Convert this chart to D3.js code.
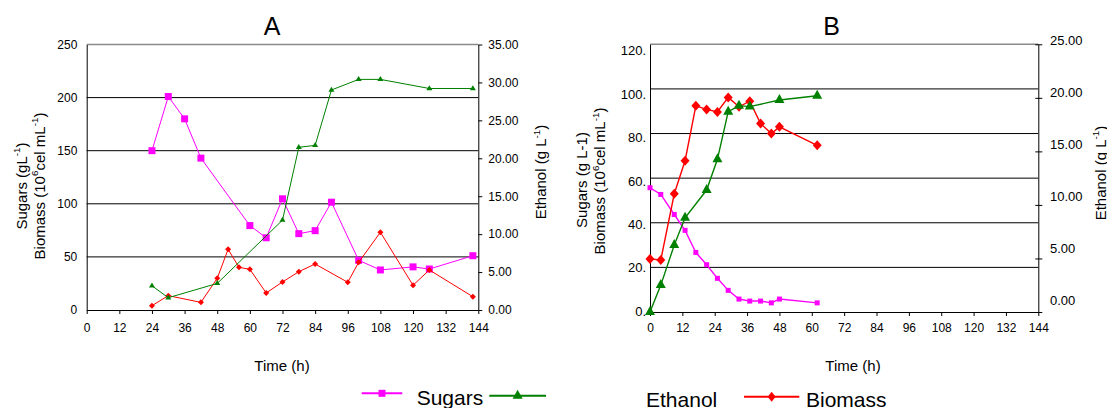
<!DOCTYPE html>
<html>
<head>
<meta charset="utf-8">
<script src="https://cdn.jsdelivr.net/npm/d3@7"></script>
<style>
  html, body { margin: 0; padding: 0; background: #fff; }
  svg { display: block; font-family: "Liberation Sans", Arial, Helvetica, sans-serif; }
</style>
</head>
<body>
<svg id="chart" width="1107" height="408"></svg>
<script>
// ---- shared axis values ----
const timeTicks = [0, 12, 24, 36, 48, 60, 72, 84, 96, 108, 120, 132, 144];
const aLeftTicks = [0, 50, 100, 150, 200, 250];
const aRightTicks = [0, 5, 10, 15, 20, 25, 30, 35];
const bLeftTicks = [0, 20, 40, 60, 80, 100, 120];
const bRightTicks = [0, 5, 10, 15, 20, 25];

// ---- panel A: fermentation over 144 h ----
const aSugarTime = [24, 30, 36, 42, 60, 66, 72, 78, 84, 90, 100, 108, 120, 126, 142];
const aSugar = [150, 201, 180, 143, 79.5, 68, 104.7, 71.9, 74.7, 101.5, 46.8, 37.7, 40.6, 38.6, 51.1];
const aEthanolTime = [24, 30, 48, 72, 78, 84, 90, 100, 108, 126, 142];
const aEthanol = [3.2, 1.62, 3.5, 11.85, 21.45, 21.7, 29.0, 30.4, 30.4, 29.2, 29.2];
const aBiomassTime = [24, 30, 42, 48, 52, 56, 60, 66, 72, 78, 84, 96, 100, 108, 120, 126, 142];
const aBiomass = [4.1, 13.5, 7.2, 29.8, 57.2, 40.2, 38.3, 16.0, 26.4, 36.1, 43.3, 26.1, 44.9, 73.2, 23.3, 37.7, 12.5];

// ---- panel B: fermentation over 62 h ----
const bSugarTime = [0, 4, 9, 13, 17, 21, 25, 29, 33, 37, 41, 45, 48, 62];
const bSugar = [55.7, 52.7, 43.7, 36.6, 26.7, 21.2, 15.1, 9.7, 5.8, 4.9, 4.9, 4.1, 5.8, 4.1];
const bEthanolTime = [0, 4, 9, 13, 21, 25, 29, 33, 37, 48, 62];
const bEthanol = [0, 2.51, 6.25, 8.8, 11.39, 14.26, 18.71, 19.27, 19.18, 19.8, 20.2];
const bBiomassTime = [0, 4, 9, 13, 17, 21, 25, 29, 33, 37, 41, 45, 48, 62];
const bBiomass = [23.8, 23.3, 53.0, 67.8, 92.4, 90.8, 89.7, 96.2, 92.0, 94.5, 84.5, 80.0, 83.0, 74.7];

// ---- legend ----
const legendLabels = ["Sugars", "Ethanol", "Biomass"];
const seriesColors = ["#ff00ff", "#008000", "#ff0000"];

const svg = d3.select("#chart");

// marker shapes centred on the data point
const shapes = {
  square: (s) => `M${-s/2},${-s/2}h${s}v${s}h${-s}Z`,
  triangle: (w, h) => `M0,${-h*2/3}L${w/2},${h/3}L${-w/2},${h/3}Z`,
  diamond: (w, h) => `M0,${-h/2}L${w/2},0L0,${h/2}L${-w/2},0Z`
};

function zip(ts, vs) { return ts.map((t, i) => ({ t, v: vs[i] })); }

// rotated axis title with superscripts: parts = [[text, isSup], ...]
function rotTitle(x, y, parts, size) {
  const t = svg.append("text")
    .attr("transform", `translate(${x},${y}) rotate(-90)`)
    .attr("text-anchor", "middle")
    .attr("font-size", size)
    .attr("fill", "#000");
  const lift = size * 0.42;
  let raised = false;
  parts.forEach(([txt, sup]) => {
    const span = t.append("tspan").text(txt);
    if (sup) {
      span.attr("font-size", size * 0.66).attr("dy", raised ? 0 : -lift);
      raised = true;
    } else {
      if (raised) span.attr("dy", lift);
      raised = false;
    }
  });
}

function drawPanel(p) {
  const g = svg.append("g");
  const x = d3.scaleLinear([0, 144], [p.x0, p.x1]);
  const yl = d3.scaleLinear([0, p.lMax], [p.y0, p.y1]);
  const yr = d3.scaleLinear([0, p.rMax], [p.y0, p.y1]);

  // horizontal gridlines on the left scale
  g.append("g").selectAll("line")
    .data(p.lTicks.filter(d => d > 0))
    .join("line")
    .attr("x1", p.x0).attr("x2", p.x1)
    .attr("y1", d => yl(d)).attr("y2", d => yl(d))
    .attr("stroke", d => d === p.lMax ? "#8a8a8a" : "#000")
    .attr("stroke-width", d => d === p.lMax ? 1.6 : 1);

  // bottom axis
  const xa = g.append("g")
    .attr("transform", `translate(0,${p.y0})`)
    .call(d3.axisBottom(x).tickValues(timeTicks).tickSize(4).tickSizeOuter(0).tickPadding(p.xPad));
  xa.attr("font-size", 12);

  // left axis
  const la = g.append("g")
    .attr("transform", `translate(${p.x0},0)`)
    .call(d3.axisLeft(yl).tickValues(p.lTicks).tickSize(0).tickSizeOuter(0)
      .tickPadding(p.lPad).tickFormat(p.lFmt));
  la.attr("font-size", p.ySize);
  if (p.lLabelRange) {
    const ls = d3.scaleLinear([0, p.lMax], p.lLabelRange);
    la.selectAll(".tick text").attr("y", d => ls(d) - yl(d));
  }

  // right axis
  const ra = g.append("g")
    .attr("transform", `translate(${p.x1},0)`)
    .call(d3.axisRight(yr).tickValues(p.rTicks).tickSize(4).tickSizeOuter(0)
      .tickPadding(p.rPad).tickFormat(d => d.toFixed(2)));
  ra.attr("font-size", p.ySize);
  if (p.rCross) ra.selectAll(".tick line").attr("x1", -3);
  if (p.rLabelRange) {
    const rs = d3.scaleLinear([0, p.rMax], p.rLabelRange);
    ra.selectAll(".tick text").attr("y", d => rs(d) - yr(d));
  }

  [xa, la, ra].forEach(a => {
    a.attr("font-family", null);
    a.selectAll(".tick text").attr("fill", "#000");
    a.select(".domain").attr("stroke", "#000").attr("stroke-width", 1);
    a.selectAll(".tick line").attr("stroke", "#000");
  });

  // series
  const line = (ys) => d3.line().x(d => x(d.t)).y(d => ys(d.v));
  p.series.forEach(s => {
    const ys = s.axis === "r" ? yr : yl;
    const data = zip(s.t, s.v);
    g.append("path").datum(data)
      .attr("fill", "none").attr("stroke", s.color).attr("stroke-width", p.lw)
      .attr("d", line(ys));
    g.append("g").selectAll("path")
      .data(data).join("path")
      .attr("transform", d => `translate(${x(d.t)},${ys(d.v)})`)
      .attr("d", s.shape)
      .attr("fill", s.color);
  });

  // panel title and x-axis title
  svg.append("text").attr("x", p.titleX).attr("y", 35).attr("text-anchor", "middle")
    .attr("font-size", 25).attr("fill", "#000").text(p.title);
  svg.append("text").attr("x", p.timeX).attr("y", 371).attr("text-anchor", "middle")
    .attr("font-size", 15).attr("fill", "#000").text("Time (h)");
}

drawPanel({
  title: "A", titleX: 272, timeX: 282,
  x0: 86.7, x1: 478.3, y0: 310, y1: 44.5,
  lMax: 250, rMax: 35, lTicks: aLeftTicks, rTicks: aRightTicks,
  lFmt: d => String(d), lPad: 9.4, rPad: 6, xPad: 9.3, ySize: 12, lw: 1,
  series: [
    { t: aSugarTime, v: aSugar, axis: "l", color: seriesColors[0], shape: shapes.square(7) },
    { t: aBiomassTime, v: aBiomass, axis: "l", color: seriesColors[2], shape: shapes.diamond(6, 6) },
    { t: aEthanolTime, v: aEthanol, axis: "r", color: seriesColors[1], shape: shapes.triangle(6, 5) }
  ]
});

drawPanel({
  title: "B", titleX: 831.5, timeX: 853,
  x0: 650, x1: 1038.3, y0: 312, y1: 44.3,
  lMax: 120, rMax: 25, lTicks: bLeftTicks, rTicks: bRightTicks,
  lFmt: d => d + ".", lPad: 4, rPad: 7.7, xPad: 7.3, ySize: 13, lw: 1.4,
  lLabelRange: [311, 50.7], rLabelRange: [300, 40], rCross: true,
  series: [
    { t: bSugarTime, v: bSugar, axis: "l", color: seriesColors[0], shape: shapes.square(5) },
    { t: bBiomassTime, v: bBiomass, axis: "l", color: seriesColors[2], shape: shapes.diamond(9, 10) },
    { t: bEthanolTime, v: bEthanol, axis: "r", color: seriesColors[1], shape: shapes.triangle(10, 9) }
  ]
});

// axis titles
rotTitle(26.5, 186, [["Sugars (gL", false], ["-1", true], [")", false]], 15);
rotTitle(44.5, 186, [["Biomass (10", false], ["6", true], ["cel mL", false], ["-1", true], [")", false]], 15);
rotTitle(546, 172, [["Ethanol (g L", false], ["-1", true], [")", false]], 15);
rotTitle(587, 180, [["Sugars (g L-1)", false]], 15);
rotTitle(605, 181, [["Biomass (10", false], ["6", true], ["cel mL", false], ["-1", true], [")", false]], 15);
rotTitle(1105.5, 173, [["Ethanol (g L", false], ["-1", true], [")", false]], 15);

// legend
const legendItems = [
  { lineX: [361.7, 402.3], y: 393.3, textX: 416.7, textY: 405, shape: shapes.square(7) },
  { lineX: [489.3, 546], y: 395.7, textX: 646, textY: 407, shape: shapes.triangle(10, 9) },
  { lineX: [744, 799.3], y: 396.7, textX: 806, textY: 407, shape: shapes.diamond(8, 10) }
];
const lg = svg.append("g");
legendItems.forEach((it, i) => {
  lg.append("line").attr("x1", it.lineX[0]).attr("x2", it.lineX[1])
    .attr("y1", it.y).attr("y2", it.y).attr("stroke", seriesColors[i]).attr("stroke-width", 2);
  lg.append("path").attr("transform", `translate(${(it.lineX[0] + it.lineX[1]) / 2},${it.y})`)
    .attr("d", it.shape).attr("fill", seriesColors[i]);
  lg.append("text").attr("x", it.textX).attr("y", it.textY)
    .attr("font-size", 21).attr("fill", "#000").text(legendLabels[i]);
});
</script>
</body>
</html>
